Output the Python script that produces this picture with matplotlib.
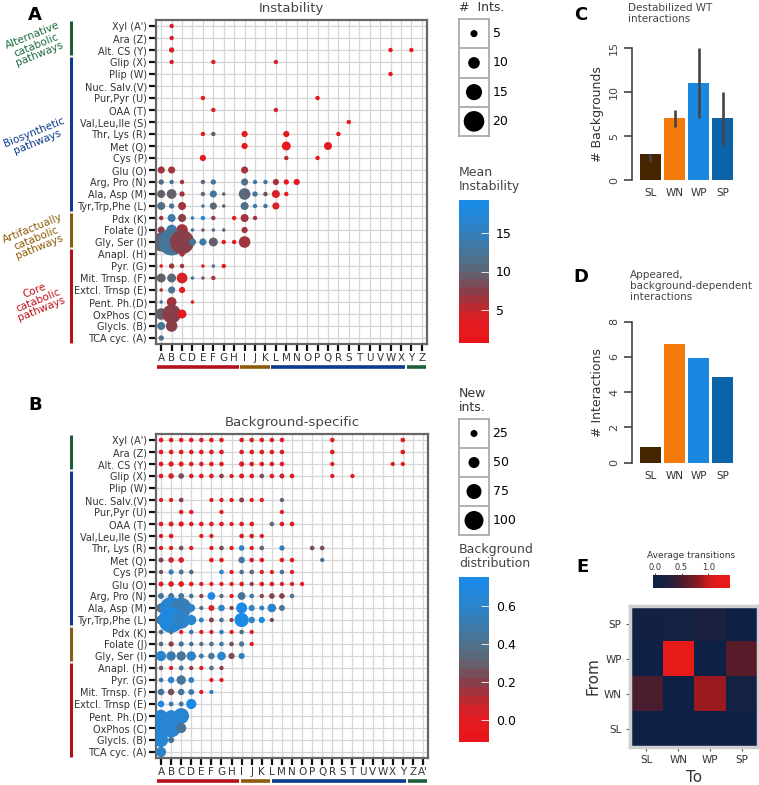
import matplotlib
matplotlib.use("Agg")
import matplotlib.pyplot as plt
from matplotlib.colors import LinearSegmentedColormap, Normalize
from matplotlib.cm import ScalarMappable

# ---------------- data ----------------
codes = list("ABCDEFGHIJKLMNOPQRSTUVWXYZ") + ["A'"]
row_labels = ["TCA cyc. (A)", "Glycls. (B)", "OxPhos (C)", "Pent. Ph.(D)", "Extcl. Trnsp (E)",
              "Mit. Trnsp. (F)", "Pyr. (G)", "Anapl. (H)", "Gly, Ser (I)", "Folate (J)", "Pdx (K)",
              "Tyr,Trp,Phe (L)", "Ala, Asp (M)", "Arg, Pro (N)", "Glu (O)", "Cys (P)", "Met (Q)",
              "Thr, Lys (R)", "Val,Leu,Ile (S)", "OAA (T)", "Pur,Pyr (U)", "Nuc. Salv.(V)",
              "Plip (W)", "Glip (X)", "Alt. CS (Y)", "Ara (Z)", "Xyl (A')"]

group_names = ["Core\ncatabolic\npathways", "Artifactually\ncatabolic\npathways",
               "Biosynthetic\npathways", "Alternative\ncatabolic\npathways"]
group_first = [0, 8, 11, 24]
group_last = [7, 10, 23, 26]
group_colors = ["#b3121b", "#8c5a0c", "#0c3a8c", "#1d5e3a"]
group_text_colors = ["#c0101a", "#8b5a00", "#0a3a8a", "#1b6b3a"]

# panel A: columns per row, number of interactions, mean instability
inst_cols = {
    "A'": "B", "Z": "B", "Y": "BWY", "X": "BFL", "W": "W", "U": "EP", "T": "FL", "S": "S",
    "R": "EFIMR", "Q": "IMQ", "P": "EMP", "O": "ABI",
    "N": "ABCEFIJKLMN", "M": "ABCEFGIJKLM", "L": "ABCEFGIJKL", "K": "ABCDEFHIJ",
    "J": "ABCDEFGI", "I": "ABCDEFGHI", "H": "C", "G": "ABCEFG", "F": "ABCDEF",
    "E": "ABC", "D": "ABD", "C": "ABC", "B": "AB", "A": "A",
}
inst_ints = {
    "A'": [2], "Z": [2], "Y": [3, 2, 2], "X": [2, 2, 2], "W": [2], "U": [2, 2], "T": [2, 2], "S": [2],
    "R": [2, 2, 4, 4, 2], "Q": [4, 7, 6], "P": [4, 2, 2], "O": [5, 5, 5],
    "N": [3, 2, 2, 2, 3, 5, 2, 2, 4, 3, 4], "M": [6, 8, 3, 2, 5, 1, 10, 3, 2, 6, 2],
    "L": [6, 3, 6, 1, 5, 1, 6, 2, 2, 5], "K": [2, 6, 6, 1, 2, 2, 2, 6, 2],
    "J": [5, 9, 10, 1, 1, 1, 1, 4], "I": [18, 27, 24, 5, 5, 7, 2, 2, 10],
    "H": [3], "G": [1, 3, 2, 1, 1, 2], "F": [7, 7, 9, 1, 1, 2], "E": [1, 5, 4], "D": [1, 8, 1],
    "C": [10, 18, 7], "B": [6, 10], "A": [3],
}
inst_mean = {
    "A'": [4], "Z": [4], "Y": [4, 2, 2], "X": [4, 4, 4], "W": [2], "U": [2, 2], "T": [4, 4], "S": [2],
    "R": [2, 9, 2, 2, 2], "Q": [2, 2, 2], "P": [2, 5, 2], "O": [6, 6, 6],
    "N": [12, 13, 6, 11, 13, 12, 14, 13, 6, 2, 2], "M": [9, 9, 6, 10, 13, 9, 11, 13, 8, 4, 2],
    "L": [12, 13, 6, 13, 10, 9, 12, 14, 13, 4], "K": [6, 14, 7, 14, 18, 7, 2, 6, 6],
    "J": [7, 14, 6, 13, 9, 12, 9, 6], "I": [9, 13, 7, 13, 14, 9, 2, 2, 6],
    "H": [6], "G": [2, 6, 6, 2, 12, 2], "F": [9, 11, 4, 13, 9, 6], "E": [6, 13, 3], "D": [13, 6, 2],
    "C": [9, 7, 3], "B": [13, 7], "A": [12],
}

# panel B: columns per row, new interactions, background distribution
bg_cols = {
    "A'": "ABCDEFGIJKLMRY", "Z": "ABCDEFGIJKLMRY", "Y": "ABCDEFGIJKLMRXY",
    "X": "ABCDEFGHIJKLMNRT", "V": "ABCFGHIJKM", "U": "CDGM", "T": "ABCDEFGHIJLMN",
    "S": "ABEFIJK", "R": "ABCDFGHIJKMPQ", "Q": "ABCFGIJKMNQ", "P": "ABCDGHIJKLMN",
    "O": "ABCDEFGHIJKLMNO", "N": "ABCDEFGHIJKLMN", "M": "ABCDEFGHIJKLM", "L": "ABCDEFGHIJKL",
    "K": "ABCDEFGHIJ", "J": "ABCDEFGHIJ", "I": "ABCDEFGHI", "H": "ABCDEFG", "G": "ABCDFG",
    "F": "ABCDEF", "E": "ABCD", "D": "ABC", "C": "ABC", "B": "AB", "A": "A",
}
bg_new = {
    "A'": [10] * 14, "Z": [10] * 14,
    "Y": [10, 14, 12, 10, 10, 10, 10, 14, 10, 10, 10, 10, 8, 8, 8],
    "X": [10, 16, 16, 10, 10, 10, 10, 8, 12, 10, 10, 10, 12, 10, 8, 8],
    "V": [8, 8, 10, 8, 8, 8, 12, 8, 8, 8],
    "U": [9, 9, 8, 8],
    "T": [10, 12, 14, 10, 10, 10, 10, 8, 10, 10, 10, 10, 10],
    "S": [8, 10, 8, 8, 10, 10, 8],
    "R": [8, 8, 10, 8, 8, 10, 8, 16, 8, 10, 14, 10, 10],
    "Q": [12, 16, 16, 10, 10, 22, 10, 10, 10, 10, 8],
    "P": [8, 14, 12, 10, 10, 8, 10, 10, 8, 8, 10, 8],
    "O": [12, 16, 16, 10, 8, 8, 8, 8, 10, 8, 10, 10, 8, 8, 8],
    "N": [18, 18, 18, 10, 8, 30, 8, 8, 30, 10, 8, 16, 16, 10],
    "M": [40, 120, 110, 30, 8, 18, 22, 8, 50, 20, 12, 35, 18],
    "L": [40, 140, 90, 45, 12, 12, 10, 8, 70, 22, 20, 8],
    "K": [10, 10, 8, 10, 8, 8, 10, 8, 10, 8],
    "J": [10, 14, 14, 10, 8, 10, 10, 10, 14, 8],
    "I": [45, 40, 40, 40, 12, 22, 35, 20, 20],
    "H": [10, 8, 12, 8, 8, 10, 8],
    "G": [10, 22, 40, 18, 8, 8],
    "F": [22, 22, 22, 18, 8, 8],
    "E": [22, 12, 12, 45],
    "D": [60, 55, 80],
    "C": [110, 100, 45],
    "B": [70, 20],
    "A": [45],
}
bg_dist = {
    "A'": [0.02] * 14, "Z": [0.02] * 14, "Y": [0.02] * 15,
    "X": [0.02, 0.03, 0.25, 0.02, 0.02, 0.02, 0.2, 0.02, 0.02, 0.02, 0.25, 0.02, 0.05, 0.02, 0.02, 0.02],
    "V": [0.02, 0.02, 0.22, 0.02, 0.02, 0.02, 0.22, 0.02, 0.02, 0.35],
    "U": [0.02, 0.02, 0.02, 0.02],
    "T": [0.02] * 10 + [0.35, 0.02, 0.02],
    "S": [0.02] * 7,
    "R": [0.02, 0.02, 0.25, 0.02, 0.02, 0.25, 0.02, 0.6, 0.02, 0.35, 0.55, 0.25, 0.25],
    "Q": [0.2, 0.03, 0.02, 0.02, 0.02, 0.5, 0.02, 0.02, 0.02, 0.02, 0.38],
    "P": [0.25, 0.55, 0.45, 0.4, 0.62, 0.02, 0.4, 0.35, 0.02, 0.02, 0.42, 0.02],
    "O": [0.02] * 9 + [0.2] + [0.02] * 5,
    "N": [0.45, 0.42, 0.42, 0.42, 0.2, 0.75, 0.4, 0.02, 0.45, 0.5, 0.2, 0.22, 0.22, 0.45],
    "M": [0.4, 0.65, 0.55, 0.6, 0.45, 0.05, 0.6, 0.2, 0.72, 0.6, 0.55, 0.6, 0.45],
    "L": [0.42, 0.68, 0.6, 0.65, 0.6, 0.2, 0.42, 0.2, 0.75, 0.6, 0.72, 0.25],
    "K": [0.4, 0.45, 0.02, 0.5, 0.02, 0.02, 0.6, 0.02, 0.4, 0.02],
    "J": [0.4, 0.2, 0.45, 0.45, 0.38, 0.4, 0.5, 0.25, 0.42, 0.02],
    "I": [0.65, 0.5, 0.45, 0.58, 0.55, 0.42, 0.65, 0.25, 0.55],
    "H": [0.3, 0.02, 0.42, 0.2, 0.02, 0.4, 0.2],
    "G": [0.42, 0.62, 0.45, 0.58, 0.02, 0.02],
    "F": [0.42, 0.25, 0.42, 0.5, 0.02, 0.58],
    "E": [0.72, 0.5, 0.45, 0.75],
    "D": [0.65, 0.65, 0.65],
    "C": [0.65, 0.65, 0.45],
    "B": [0.65, 0.45],
    "A": [0.6],
}

# panels C, D
classes = ["SL", "WN", "WP", "SP"]
class_colors = ["#472400", "#f57a0c", "#1a88e0", "#0c63a8"]
destab = [3, 7, 11, 7]
destab_lo = [2, 6, 7, 4]
destab_hi = [3, 8, 15, 10]
appeared = [0.87, 6.73, 5.95, 4.87]

# panel E: rows = From (SL, WN, WP, SP), cols = To (SL, WN, WP, SP)
transitions = [[0.0, 0.0, 0.0, 0.0],
               [0.5, 0.0, 0.85, 0.1],
               [0.0, 1.35, 0.0, 0.57],
               [0.08, 0.1, 0.22, 0.0]]

# ---------------- style ----------------
W, H = 759, 785
fig = plt.figure(figsize=(W / 100, H / 100), dpi=100)


def px_box(x0, y0, x1, y1):
    return [x0 / W, 1 - y1 / H, (x1 - x0) / W, (y1 - y0) / H]


def size_a(v):
    return ((2.6 + 0.9 * v) * 0.72) ** 2


def size_b(v):
    return ((3.0 + 0.16 * v) * 0.72) ** 2


inst_cmap = LinearSegmentedColormap.from_list(
    "inst", [(0.0, "#e8161b"), (0.15, "#e01d22"), (0.25, "#b52c34"), (0.35, "#8a3e48"),
             (0.45, "#6a5a66"), (0.55, "#566c80"), (0.7, "#3f7aa8"), (0.85, "#2a84cc"),
             (1.0, "#1a8ae6")], N=18)
norm_a = Normalize(0.7, 19.3)
norm_b = Normalize(-0.115, 0.755)


def bubble_panel(ax, cols, sizes, vals, size_fn, norm, ncol, title):
    xs, ys, ss, cs = [], [], [], []
    for r in cols:
        for c, s, v in zip(cols[r], sizes[r], vals[r]):
            xs.append(codes.index(c))
            ys.append(codes.index(r))
            ss.append(size_fn(s))
            cs.append(v)
    ax.scatter(xs, ys, s=ss, c=cs, cmap=inst_cmap, norm=norm, linewidths=0, zorder=3)
    ax.set_xlim(-0.5, ncol - 0.5)
    ax.set_ylim(-0.5, 26.5)
    ax.set_xticks(range(ncol), codes[:ncol])
    ax.set_yticks(range(27), row_labels)
    ax.grid(True, color="#d6d6d6", lw=0.9)
    ax.set_axisbelow(True)
    for sp in ax.spines.values():
        sp.set_color("#666")
        sp.set_linewidth(1.6)
    ax.tick_params(length=5, width=1.6, color="#111", labelcolor="#333", pad=1.5)
    ax.tick_params(axis="y", labelsize=7)
    ax.tick_params(axis="x", labelsize=7.5)
    ax.set_title(title, fontsize=9.5, color="#444", pad=6)
    # group bars (positions follow a 26-column layout in both panels)
    for g in range(4):
        x0 = (group_first[g] + 0.08) / 26
        x1 = (min(group_last[g], 25) + 0.92) / 26
        ax.plot([x0, x1], [-0.071, -0.071], transform=ax.transAxes, color=group_colors[g],
                lw=2.6, clip_on=False, solid_capstyle="butt")
        y0 = (group_first[g] + 0.06) / 27
        y1 = (group_last[g] + 0.94) / 27
        ax.plot([-0.314, -0.314], [y0, y1], transform=ax.transAxes, color=group_colors[g],
                lw=2.2, clip_on=False, solid_capstyle="butt")


def size_legend(x0, y0, x1, y1, values, size_fn, title):
    lax = fig.add_axes(px_box(x0, y0, x1, y1))
    lax.set_xlim(0, 1)
    lax.set_ylim(0, 4)
    lax.scatter([0.5] * 4, [3.5, 2.5, 1.5, 0.5], s=[size_fn(v) for v in values], c="k", linewidths=0)
    for yy in [1, 2, 3]:
        lax.axhline(yy, color="#aaa", lw=1.3)
    for sp in lax.spines.values():
        sp.set_color("#aaa")
        sp.set_linewidth(1.3)
    lax.set_xticks([])
    lax.set_yticks([])
    for yy, v in zip([3.5, 2.5, 1.5, 0.5], values):
        lax.text(1.12, yy, str(v), transform=lax.get_yaxis_transform(), fontsize=9, va="center")
    fig.text(x0 / W, 1 - (y0 - 5) / H, title, fontsize=9, color="#333", va="bottom", ha="left",
             linespacing=1.1)


def colorbar(x0, y0, x1, y1, norm, ticks, fmt, title):
    cax = fig.add_axes(px_box(x0, y0, x1, y1))
    cb = fig.colorbar(ScalarMappable(norm, inst_cmap), cax=cax, ticks=ticks)
    cb.outline.set_visible(False)
    cb.set_ticklabels([fmt.format(t) for t in ticks])
    cax.tick_params(direction="in", color="#ffffff", length=6, width=0.6, labelsize=9, pad=5)
    fig.text(x0 / W, 1 - (y0 - 7) / H, title, fontsize=9, color="#444", va="bottom", ha="left",
             linespacing=1.15)


# ---------------- panel A ----------------
ax_a = fig.add_axes(px_box(156, 20, 427, 344))
bubble_panel(ax_a, inst_cols, inst_ints, inst_mean, size_a, norm_a, 26, "Instability")
label_pos = [(38, 300), (36, 238), (36, 137), (36, 45)]
for g in range(4):
    fig.text(label_pos[g][0] / W, 1 - label_pos[g][1] / H, group_names[g], rotation=22,
             fontsize=7.5, color=group_text_colors[g], ha="center", va="center",
             multialignment="center", linespacing=1.0)
size_legend(459, 19, 489, 136, [5, 10, 15, 20], size_a, "#  Ints.")
colorbar(459, 200, 489, 343, norm_a, [5, 10, 15], "{:.0f}", "Mean\nInstability")

# ---------------- panel B ----------------
ax_b = fig.add_axes(px_box(156, 434, 428, 758))
bubble_panel(ax_b, bg_cols, bg_new, bg_dist, size_b, norm_b, 27, "Background-specific")
size_legend(459, 419, 489, 535, [25, 50, 75, 100], size_b, "New\nints.")
colorbar(459, 577, 489, 742, norm_b, [0.0, 0.2, 0.4, 0.6], "{:.1f}", "Background\ndistribution")


# ---------------- panels C, D ----------------
def bar_panel(box, values, ymax, yticks, ylabel):
    ax = fig.add_axes(box)
    ax.bar(range(4), values, width=0.87, color=class_colors)
    ax.set_xlim(-0.77, 3.5)
    ax.set_ylim(0, ymax)
    ax.set_xticks(range(4), classes)
    ax.set_yticks(yticks)
    ax.set_yticklabels([str(t) for t in yticks], rotation=90, va="center")
    for s in ["top", "right", "bottom"]:
        ax.spines[s].set_visible(False)
    ax.spines["left"].set_color("#444")
    ax.spines["left"].set_linewidth(1.2)
    ax.tick_params(axis="x", length=0, labelsize=7.5, labelcolor="#333", pad=6)
    ax.tick_params(axis="y", length=6, width=1.2, color="#444", labelsize=8, labelcolor="#444", pad=3)
    ax.set_ylabel(ylabel, fontsize=9, color="#333", labelpad=4)
    return ax


ax_c = bar_panel(px_box(631.7, 48, 735, 180), destab, 15, [0, 5, 10, 15], "# Backgrounds")
ax_c.vlines(range(4), destab_lo, destab_hi, color="#444", lw=1.9, zorder=3)
fig.text(628 / W, 1 - 3 / H, "Destabilized WT\ninteractions", fontsize=7.5, color="#444",
         va="top", ha="left", linespacing=1.1)

ax_d = bar_panel(px_box(631.7, 321.7, 735, 462.7), appeared, 8, [0, 2, 4, 6, 8], "# Interactions")
fig.text(630 / W, 1 - 270 / H, "Appeared,\nbackground-dependent\ninteractions", fontsize=7.5,
         color="#444", va="top", ha="left", linespacing=1.1)

# ---------------- panel E ----------------
e_cmap = LinearSegmentedColormap.from_list(
    "trans", [(0.0, "#0b2246"), (0.2, "#1e2040"), (0.37, "#4a1c2e"), (0.55, "#7a1a22"),
              (0.72, "#cc1a1c"), (0.85, "#e41a1a"), (1.0, "#e81a1a")])
norm_e = Normalize(-0.03, 1.4)
ax_e = fig.add_axes(px_box(630, 606, 758, 747))
ax_e.imshow(transitions, cmap=e_cmap, norm=norm_e, origin="lower", aspect="auto",
            extent=(-0.5, 3.5, -0.5, 3.5))
ax_e.set_xlim(-0.52, 3.52)
ax_e.set_ylim(-0.52, 3.52)
ax_e.set_xticks(range(4), classes)
ax_e.set_yticks(range(4), classes)
for sp in ax_e.spines.values():
    sp.set_color("#cfcfcf")
    sp.set_linewidth(2.5)
ax_e.tick_params(length=3, width=0.8, color="#555", labelsize=7.5, labelcolor="#333", pad=3)
ax_e.set_xlabel("To", fontsize=11, color="#333", labelpad=3)
ax_e.set_ylabel("From", fontsize=11, color="#333", labelpad=2)

ecax = fig.add_axes(px_box(653, 575, 730, 588))
ecb = fig.colorbar(ScalarMappable(norm_e, e_cmap), cax=ecax, orientation="horizontal",
                   ticks=[0.0, 0.5, 1.0])
ecb.outline.set_visible(False)
ecax.xaxis.set_ticks_position("top")
ecax.tick_params(length=1.5, width=0.6, color="#333", labelsize=6, labelcolor="#333", pad=0.5)
fig.text(691 / W, 1 - 556 / H, "Average transitions", fontsize=6.5, color="#333",
         ha="center", va="center")

# ---------------- panel letters ----------------
for lab, (x, y) in {"A": (35, 15), "B": (35, 405), "C": (581, 15), "D": (581, 277),
                    "E": (582, 567)}.items():
    fig.text(x / W, 1 - y / H, lab, fontsize=13, fontweight="bold", ha="center", va="center")

fig.savefig("out.png", dpi=100)
